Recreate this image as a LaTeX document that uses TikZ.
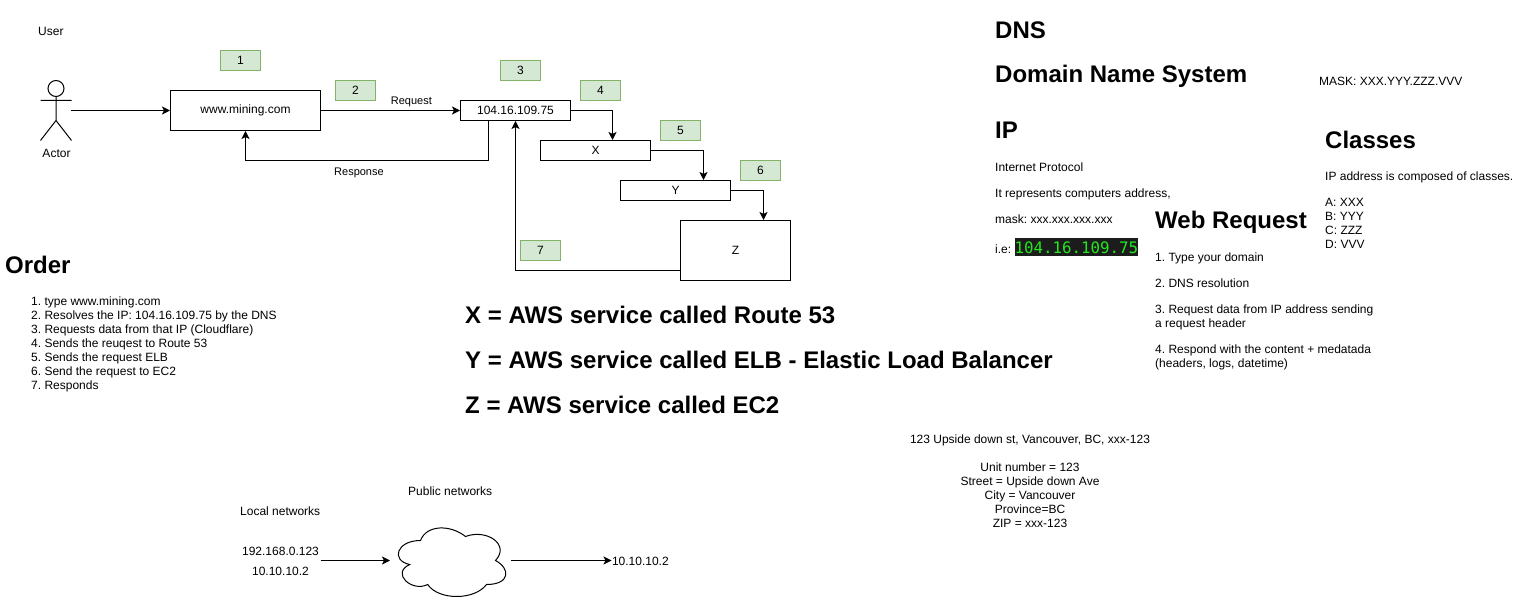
\documentclass[tikz,border=0pt]{standalone}
\usepackage{fontspec}
\usepackage{xcolor}
\setmainfont{Liberation Sans}
\newfontfamily\ipmono{DejaVu Sans Mono}
\usetikzlibrary{positioning}
\usetikzlibrary{arrows.meta}
\definecolor{stepfill}{HTML}{D5E8D4}
\definecolor{stepline}{HTML}{82B366}
\definecolor{termbg}{HTML}{1C1C1C}
\definecolor{termfg}{HTML}{22E81C}
\newcommand{\ipbox}[1]{{\setlength{\fboxsep}{0pt}\colorbox{termbg}{\rule[-2.5pt]{0pt}{18pt}\ipmono\fontsize{15.8}{16}\selectfont\textcolor{termfg}{#1}}}}
\frenchspacing

\begin{document}
\begin{tikzpicture}[x=1pt, y=-1pt, line width=1pt, >={Stealth[length=8pt,width=8pt,inset=2pt]},
	sqnode/.style={rectangle,draw=black,minimum height=#1,inner sep=0pt,font=\fontsize{12}{14}\selectfont},
	sqnode/.default=20pt,
	stepnode/.style={rectangle,draw=stepline,fill=stepfill,minimum width=40pt,minimum height=20pt,inner sep=0pt,font=\fontsize{12}{14}\selectfont},
	txtnode/.style={inner sep=0pt,align=left,anchor=north west,font=\fontsize{12}{14}\selectfont},
	smallnode/.style={inner sep=0pt,font=\fontsize{11}{14}\selectfont},
	headnode/.style={inner sep=0pt,anchor=base west,font=\fontsize{24}{28}\selectfont\bfseries}]
	\useasboundingbox (-0.5,-0.5) rectangle (1520.5,600.5);

	\node[txtnode] (user) at (37.2,26) {User};
	\node[inner sep=0pt,minimum width=30pt,minimum height=60pt] (actor) at (55,110) {};
	\draw (55.5,88) circle (8);
	\draw (55.5,96) -- (55.5,120) (40,100) -- (71,100) (40,140) -- (55.5,120) -- (71,140);
	\node[txtnode,anchor=north,xshift=1pt] (actorlabel) [below = 8pt of actor] {Actor};

	\node[sqnode=40pt,minimum width=150pt] (site) at (245,110) {www.mining.com};
	\node[sqnode,minimum width=110pt] (ip) at (515,110) {104.16.109.75};
	\node[sqnode,minimum width=110pt] (xnode) at (595,150) {X};
	\node[sqnode,minimum width=110pt] (ynode) at (675,190) {Y};
	\node[sqnode=60pt,minimum width=110pt] (znode) at (735,250) {Z};

	\node[stepnode] (step1) at (240,60) {1};
	\node[stepnode] (step2) at (355,90) {2};
	\node[stepnode] (step3) at (520,70) {3};
	\node[stepnode] (step4) at (600,90) {4};
	\node[stepnode] (step5) at (680,130) {5};
	\node[stepnode] (step6) at (760,170) {6};
	\node[stepnode] (step7) at (540,250) {7};

	\draw[->] (actor) -- (site);
	\draw[->] (site) -- (ip) node[pos=0.65,above=3pt,smallnode] (request) {Request};
	\draw[->] ([xshift=-27pt]ip.south) -- ++(0,40) -| (site.south);
	\node[smallnode,anchor=north west] (response) at (333.2,167) {Response};
	\draw[->] (ip.east) -| ([xshift=17pt]xnode.north);
	\draw[->] (xnode.east) -| ([xshift=28pt]ynode.north);
	\draw[->] (ynode.east) -| ([xshift=28pt]znode.north);
	\draw[->] ([yshift=-20pt]znode.west) -| (ip.south);

	\node[headnode] (order) at (4.2,273) {Order};
	\node[txtnode] (orderlist) at (30.2,296) {1. type www.mining.com\\2. Resolves the IP: 104.16.109.75 by the DNS\\3. Requests data from that IP (Cloudflare)\\4. Sends the reuqest to Route 53\\5. Sends the request ELB\\6. Send the request to EC2\\7. Responds};

	\node[headnode] (awsx) at (464.2,323) {X = AWS service called Route 53};
	\node[headnode] (awsy) at (464.2,368) {Y = AWS service called ELB - Elastic Load Balancer};
	\node[headnode] (awsz) at (464.2,413) {Z = AWS service called EC2};

	\node[headnode] (dns) at (994.2,38) {DNS};
	\node[headnode] (dnsname) at (994.2,82) {Domain Name System};
	\node[txtnode] (mask) at (1318.2,76) {MASK: XXX.YYY.ZZZ.VVV};
	\node[headnode] (iphead) at (994.2,138) {IP};
	\node[txtnode] (iptext) at (994.2,162) {Internet Protocol\\[12pt]It represents computers address,\\[12pt]mask: xxx.xxx.xxx.xxx};
	\node[txtnode,anchor=base west] (ipvalue) at (994.2,253) {i.e: \ipbox{104.16.109.75}};

	\node[headnode] (classes) at (1324.2,148) {Classes};
	\node[txtnode] (classtext) at (1324.2,171) {IP address is composed of classes.\\[12pt]A: XXX\\B: YYY\\C: ZZZ\\D: VVV};

	\node[headnode] (webreq) at (1154.2,228) {Web Request};
	\node[txtnode] (webtext) at (1154.2,252) {1. Type your domain\\[12pt]2. DNS resolution\\[12pt]3. Request data from IP address sending\\a request header\\[12pt]4. Respond with the content + medatada\\(headers, logs, datetime)};

	\node[txtnode,align=center,anchor=north] (address) at (1029.5,434) {123 Upside down st, Vancouver, BC, xxx-123\\[14pt]Unit number = 123\\Street = Upside down Ave\\City = Vancouver\\Province=BC\\ZIP = xxx-123};

	\node[txtnode] (localnet) at (239.2,506) {Local networks};
	\node[txtnode] (publicnet) at (407.2,486) {Public networks};
	\node[txtnode,anchor=north] (localip) at (280,546) {192.168.0.123};
	\node[txtnode,anchor=north] (localip2) at (280,566) {10.10.10.2};
	\coordinate (localout) at (320,560);
	\node[inner sep=0pt,minimum width=120pt,minimum height=80pt] (cloud) at (450,560) {};
	\draw[shift={(390,520)}] (30,20) .. controls (6,20) and (0,40) .. (19.2,44)
		.. controls (0,52.8) and (21.6,72) .. (37.2,64)
		.. controls (48,80) and (84,80) .. (96,64)
		.. controls (120,64) and (120,48) .. (105,40)
		.. controls (120,24) and (96,8) .. (75,16)
		.. controls (60,4) and (36,4) .. (30,20) -- cycle;
	\node[txtnode,anchor=west] (publicip) at (611,561) {10.10.10.2};
	\draw[->] (localout) -- (cloud);
	\draw[->] (cloud) -- (cloud -| publicip.west);
\end{tikzpicture}
\end{document}
